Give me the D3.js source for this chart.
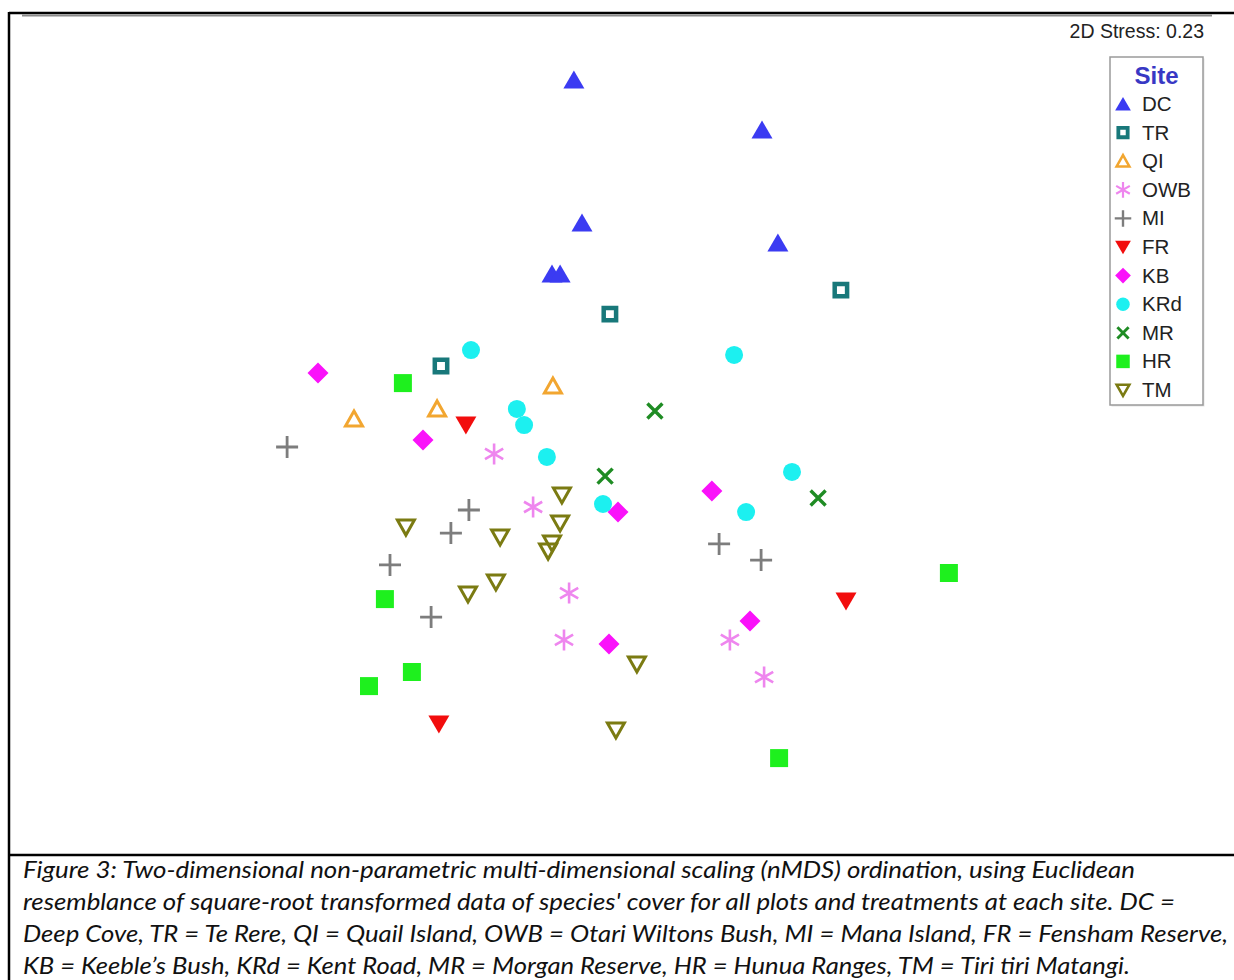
<!DOCTYPE html>
<html>
<head>
<meta charset="utf-8">
<script src="https://cdn.jsdelivr.net/npm/d3@7"></script>
<style>
    body { margin: 0; background: #fff; }
    svg { display: block; }
</style>
</head>
<body>
<svg id="drawing_region"></svg>
<script>
// nMDS coordinates (arbitrary MDS units)
const sites = ["DC", "TR", "QI", "OWB", "MI", "FR", "KB", "KRd", "MR", "HR", "TM"];

const DC  = [[-0.137, 1.233], [0.490, 1.067], [-0.110, 0.757], [0.543, 0.690], [-0.210, 0.587], [-0.183, 0.587]];
const TR  = [[-0.017, 0.453], [0.753, 0.533], [-0.580, 0.280]];
const QI  = [[-0.207, 0.213], [-0.593, 0.137], [-0.870, 0.103]];
const OWB = [[-0.403, -0.013], [-0.273, -0.190], [-0.153, -0.477], [-0.170, -0.633], [0.383, -0.633], [0.497, -0.757]];
const MI  = [[-1.093, 0.010], [-0.487, -0.200], [-0.547, -0.277], [-0.750, -0.383], [-0.613, -0.557], [0.347, -0.313], [0.487, -0.367]];
const FR  = [[-0.497, 0.083], [0.770, -0.503], [-0.587, -0.913]];
const KB  = [[-0.990, 0.257], [-0.640, 0.033], [0.010, -0.207], [0.323, -0.137], [-0.020, -0.647], [0.450, -0.570]];
const KRd = [[-0.480, 0.333], [0.397, 0.317], [-0.327, 0.137], [-0.303, 0.083], [-0.227, -0.023], [-0.040, -0.180], [0.437, -0.207], [0.590, -0.073]];
const MR  = [[0.133, 0.130], [-0.033, -0.087], [0.677, -0.160]];
const HR  = [[-0.707, 0.223], [-0.767, -0.497], [-0.677, -0.740], [-0.820, -0.787], [1.113, -0.410], [0.547, -1.027]];
const TM  = [[-0.177, -0.150], [-0.183, -0.243], [-0.210, -0.310], [-0.223, -0.337], [-0.697, -0.257], [-0.383, -0.290],
             [-0.397, -0.440], [-0.490, -0.480], [0.073, -0.713], [0.003, -0.933]];

const sitePoints = [DC, TR, QI, OWB, MI, FR, KB, KRd, MR, HR, TM];

const stressLabel = "2D Stress: 0.23";
const legendTitle = "Site";

const captionLines = [
    "Figure 3: Two-dimensional non-parametric multi-dimensional scaling (nMDS) ordination, using Euclidean",
    "resemblance of square-root transformed data of species' cover for all plots and treatments at each site. DC =",
    "Deep Cove, TR = Te Rere, QI = Quail Island, OWB = Otari Wiltons Bush, MI = Mana Island, FR = Fensham Reserve,",
    "KB = Keeble\u2019s Bush, KRd = Kent Road, MR = Morgan Reserve, HR = Hunua Ranges, TM = Tiri tiri Matangi."
];

// marker style per site
const markerStyle = {
    DC:  {shape: 'triUp',       color: '#3b3bf2', fill: true},
    TR:  {shape: 'squareOpen',  color: '#18787a', fill: false, sw: 4.5},
    QI:  {shape: 'triUpOpen',   color: '#f2a630', fill: false, sw: 3},
    OWB: {shape: 'asterisk',    color: '#ee86ee', fill: false, sw: 2.6},
    MI:  {shape: 'plus',        color: '#7d7d7d', fill: false, sw: 2.8},
    FR:  {shape: 'triDown',     color: '#f20d0d', fill: true},
    KB:  {shape: 'diamond',     color: '#fa12fa', fill: true},
    KRd: {shape: 'circle',      color: '#1cf0f0', fill: true},
    MR:  {shape: 'cross',       color: '#1f8c24', fill: false, sw: 3.4},
    HR:  {shape: 'square',      color: '#1ef01e', fill: true},
    TM:  {shape: 'triDownOpen', color: '#7b7b12', fill: false, sw: 3}
};

function markerPath(shape, k) {
    const p = d3.path();
    const s = v => v * k;
    switch (shape) {
        case 'triUp':
            p.moveTo(0, s(-9.5)); p.lineTo(s(10.5), s(8.5)); p.lineTo(s(-10.5), s(8.5)); p.closePath(); break;
        case 'triDown':
            p.moveTo(s(-10.5), s(-8.5)); p.lineTo(s(10.5), s(-8.5)); p.lineTo(0, s(9.5)); p.closePath(); break;
        case 'triUpOpen':
            p.moveTo(0, s(-8)); p.lineTo(s(8.5), s(7)); p.lineTo(s(-8.5), s(7)); p.closePath(); break;
        case 'triDownOpen':
            p.moveTo(s(-8.5), s(-7)); p.lineTo(s(8.5), s(-7)); p.lineTo(0, s(8)); p.closePath(); break;
        case 'squareOpen':
            p.rect(s(-6.2), s(-6.2), s(12.4), s(12.4)); break;
        case 'square':
            p.rect(s(-9), s(-9), s(18), s(18)); break;
        case 'diamond':
            p.moveTo(0, s(-10.5)); p.lineTo(s(10.5), 0); p.lineTo(0, s(10.5)); p.lineTo(s(-10.5), 0); p.closePath(); break;
        case 'circle':
            p.arc(0, 0, s(9), 0, 2 * Math.PI); p.closePath(); break;
        case 'plus':
            p.moveTo(s(-11), 0); p.lineTo(s(11), 0); p.moveTo(0, s(-11)); p.lineTo(0, s(11)); break;
        case 'cross':
            p.moveTo(s(-7.5), s(-7.5)); p.lineTo(s(7.5), s(7.5)); p.moveTo(s(-7.5), s(7.5)); p.lineTo(s(7.5), s(-7.5)); break;
        case 'asterisk':
            p.moveTo(0, s(-10.5)); p.lineTo(0, s(10.5));
            p.moveTo(s(-9.1), s(-5.25)); p.lineTo(s(9.1), s(5.25));
            p.moveTo(s(-9.1), s(5.25)); p.lineTo(s(9.1), s(-5.25)); break;
    }
    return p.toString();
}

function styleMarker(sel, k) {
    sel.attr('d', d => markerPath(markerStyle[d.site].shape, k))
        .attr('fill', d => markerStyle[d.site].fill ? markerStyle[d.site].color : 'none')
        .attr('stroke', d => markerStyle[d.site].fill ? 'none' : markerStyle[d.site].color)
        .attr('stroke-width', d => (markerStyle[d.site].sw || 0) * (k < 1 ? 0.85 : 1))
        .attr('stroke-linejoin', 'miter');
}

class OrdinationPlot {

    constructor(config, data) {
        this.config = {
            parent: config.parent,
            width: config.width || 256,
            height: config.height || 256,
            plot: config.plot
        };
        this.data = data;
        this.init();
    }

    init() {
        let self = this;

        self.svg = d3.select(self.config.parent)
            .attr('width', self.config.width)
            .attr('height', self.config.height);

        // table cell borders around the figure
        self.svg.append('line')
            .attr('x1', 9).attr('x2', self.config.width)
            .attr('y1', 13).attr('y2', 13)
            .attr('stroke', '#000').attr('stroke-width', 2.5);
        self.svg.append('line')
            .attr('x1', 22).attr('x2', 1212)
            .attr('y1', 15.5).attr('y2', 15.5)
            .attr('stroke', '#8a8a8a').attr('stroke-width', 2);
        self.svg.append('line')
            .attr('x1', 9).attr('x2', 9)
            .attr('y1', 12).attr('y2', self.config.height)
            .attr('stroke', '#000').attr('stroke-width', 2.5);
        self.svg.append('line')
            .attr('x1', 9).attr('x2', self.config.width)
            .attr('y1', 855).attr('y2', 855)
            .attr('stroke', '#000').attr('stroke-width', 2.5);

        self.xscale = d3.scaleLinear()
            .domain([-1, 1])
            .range([self.config.plot.left, self.config.plot.right]);

        self.yscale = d3.scaleLinear()
            .domain([-1, 1])
            .range([self.config.plot.bottom, self.config.plot.top]);

        self.chart = self.svg.append('g');

        //Stress label
        self.svg.append('text')
            .attr('x', 1204)
            .attr('y', 38)
            .attr('text-anchor', 'end')
            .style('font-family', '"Liberation Sans", Arial, sans-serif')
            .style('font-size', '19.5px')
            .attr('fill', '#222')
            .text(stressLabel);

        //Caption
        const widths = [1112, 1152, 1205, 1107];
        self.svg.append('g')
            .selectAll('text')
            .data(captionLines)
            .enter()
            .append('text')
            .attr('x', 23)
            .attr('y', (d, i) => 878 + i * 32)
            .attr('textLength', (d, i) => widths[i])
            .attr('lengthAdjust', 'spacingAndGlyphs')
            .style('font-family', 'Lato, "Open Sans", sans-serif')
            .style('font-style', 'italic')
            .style('font-size', '23.5px')
            .attr('fill', '#111')
            .text(d => d);
    }

    render() {
        let self = this;

        self.chart.selectAll('path')
            .data(self.data)
            .enter()
            .append('path')
            .attr('transform', d => `translate(${self.xscale(d.x)}, ${self.yscale(d.y)})`)
            .call(styleMarker, 1);

        self.renderLegend();
    }

    renderLegend() {
        let self = this;
        const box = {x: 1110, y: 57, w: 93, h: 348};
        const legend = self.svg.append('g');

        legend.append('rect')
            .attr('x', box.x + 1.5).attr('y', box.y + 1.5)
            .attr('width', box.w).attr('height', box.h)
            .attr('fill', '#e4e4e4');
        legend.append('rect')
            .attr('x', box.x).attr('y', box.y)
            .attr('width', box.w).attr('height', box.h)
            .attr('fill', '#fff')
            .attr('stroke', '#9a9a9a')
            .attr('stroke-width', 1.5);

        legend.append('text')
            .attr('x', box.x + box.w / 2)
            .attr('y', 84)
            .attr('text-anchor', 'middle')
            .style('font-family', '"Liberation Sans", Arial, sans-serif')
            .style('font-size', '24px')
            .style('font-weight', 'bold')
            .attr('fill', '#3838c4')
            .text(legendTitle);

        const rowY = d3.scalePoint().domain(sites).range([104, 390]);

        const rows = legend.selectAll('g.row')
            .data(sites.map(s => ({site: s})))
            .enter()
            .append('g')
            .attr('class', 'row')
            .attr('transform', d => `translate(${box.x + 13}, ${rowY(d.site)})`);

        rows.append('path').call(styleMarker, 0.75);

        rows.append('text')
            .attr('x', 19)
            .attr('y', 7)
            .style('font-family', '"Liberation Sans", Arial, sans-serif')
            .style('font-size', '20.5px')
            .attr('fill', '#222')
            .text(d => d.site);
    }
}

const data = [];
sites.forEach((s, i) => {
    sitePoints[i].forEach(p => data.push({site: s, x: p[0], y: p[1]}));
});

var config = {
    parent: '#drawing_region',
    width: 1234,
    height: 980,
    plot: {left: 315, right: 915, top: 150, bottom: 750}
};

const plot = new OrdinationPlot(config, data);
plot.render();
</script>
</body>
</html>
